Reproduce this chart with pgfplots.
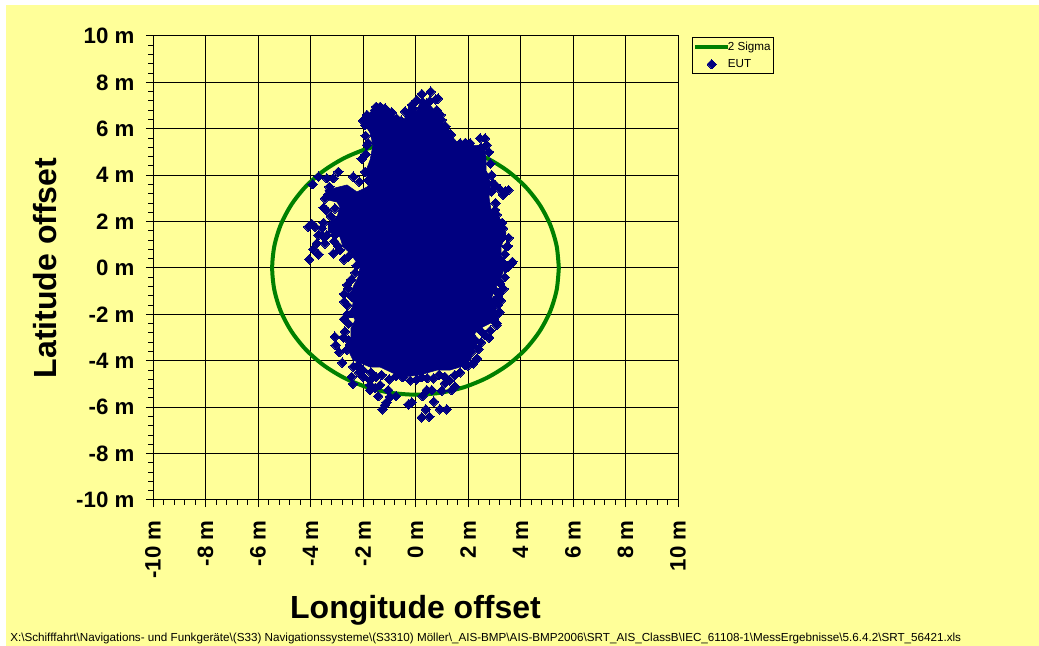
\documentclass[border=0pt]{standalone}
\usepackage{fontspec}
\setmainfont{Liberation Sans}
\usepackage{pgfplots}
\pgfplotsset{compat=1.18}
\definecolor{chartbg}{HTML}{FFFF99}
\definecolor{eut}{HTML}{000080}
\definecolor{sigma}{HTML}{008000}
\pgfplotsset{
  lineleg/.style={legend image code/.code={\draw[##1] (0pt,0pt) -- (24.75pt,0pt);}},
  markleg/.style={legend image code/.code={\draw[##1,mark repeat=2,mark phase=2] plot coordinates {(0pt,0pt)(12.4pt,0pt)(24.75pt,0pt)};}},
}
\begin{document}
\begin{tikzpicture}
\useasboundingbox (0pt,0pt) rectangle (779.25pt,484.5pt);
\fill[chartbg] (4.5pt,0pt) rectangle (779.25pt,480.75pt);
\begin{axis}[
    at={(114.75pt,109.5pt)}, anchor=south west,
    scale only axis, width=393.75pt, height=348pt,
    xmin=-10, xmax=10, ymin=-10, ymax=10,
    xtick={-10,-8,...,10}, ytick={-10,-8,...,10},
    xticklabels={-10 m,-8 m,-6 m,-4 m,-2 m,0 m,2 m,4 m,6 m,8 m,10 m},
    yticklabels={-10 m,-8 m,-6 m,-4 m,-2 m,0 m,2 m,4 m,6 m,8 m,10 m},
    minor tick num=4,
    xtick pos=bottom, ytick pos=left,
    tick align=outside,
    major tick length=5.25pt, minor tick length=3.6pt,
    tick style={black, line width=0.75pt},
    grid=major, major grid style={black, line width=0.75pt},
    axis line style={line width=0.75pt},
    ticklabel style={font=\fontsize{16.7}{18}\selectfont\bfseries},
    xticklabel style={rotate=90, anchor=east, inner xsep=0pt, xshift=-10pt},
    yticklabel style={anchor=east, inner xsep=0pt, xshift=-8.5pt},
    xlabel={Longitude offset}, ylabel={Latitude offset},
    every axis x label/.style={at={(axis description cs:0.5,-0.237)}, anchor=center,
        font=\fontsize{24}{28}\selectfont\bfseries},
    every axis y label/.style={at={(axis description cs:-0.206,0.5)}, rotate=90, anchor=center,
        font=\fontsize{24}{28}\selectfont\bfseries},
    legend style={at={(axis description cs:1.0267,0.998)}, anchor=north west,
        fill=chartbg, draw=black, line width=0.75pt, font=\fontsize{8.75}{10}\selectfont,
        inner xsep=0.5pt, inner ysep=1.5pt, row sep=1pt,
        cells={anchor=west, inner xsep=1pt}},
]
% 2 Sigma circle
\addplot[sigma, line width=3pt, smooth, lineleg] coordinates {
  (5.46,0) (5.377,0.948) (5.131,1.867) (4.728,2.730) (4.183,3.510) (3.510,4.183)
  (2.730,4.728) (1.867,5.131) (0.948,5.377) (0,5.46) (-0.948,5.377) (-1.867,5.131)
  (-2.730,4.728) (-3.510,4.183) (-4.183,3.510) (-4.728,2.730) (-5.131,1.867) (-5.377,0.948)
  (-5.46,0) (-5.377,-0.948) (-5.131,-1.867) (-4.728,-2.730) (-4.183,-3.510) (-3.510,-4.183)
  (-2.730,-4.728) (-1.867,-5.131) (-0.948,-5.377) (0,-5.46) (0.948,-5.377) (1.867,-5.131)
  (2.730,-4.728) (3.510,-4.183) (4.183,-3.510) (4.728,-2.730) (5.131,-1.867) (5.377,-0.948)
  (5.46,0)
};
\addlegendentry{\hspace*{-3.75pt}2 Sigma\hspace{2.25pt}}
% region where the markers overlap into solid colour
\addplot[fill=eut, draw=eut, forget plot] coordinates {
  (0.25,7.37) (0.44,7.16) (0.82,6.68) (1.05,6.25) (1.24,5.86) (1.58,5.43) (2.08,5.30) (2.65,5.26)
  (2.69,4.66) (2.69,4.09) (2.88,3.66) (2.80,3.06) (2.88,2.50) (3.18,2.07) (3.45,1.51) (3.26,0.91)
  (3.26,0.47) (3.41,0.04) (3.26,-0.39) (3.07,-0.82) (2.91,-1.25) (3.07,-1.68) (3.10,-2.24) (2.57,-2.54)
  (2.27,-2.80) (2.19,-3.53) (2.11,-3.97) (1.70,-4.27) (1.31,-4.40) (0.82,-4.40) (0.17,-4.61) (-0.48,-4.70)
  (-0.86,-4.53) (-1.35,-4.27) (-1.73,-4.27) (-2.11,-4.09) (-2.38,-3.97) (-2.57,-3.53) (-2.46,-2.97) (-2.46,-2.59)
  (-2.30,-2.24) (-2.46,-1.94) (-2.38,-1.51) (-2.46,-1.16) (-2.38,-0.82) (-2.19,-0.39) (-2.11,0.04) (-2.50,0.65)
  (-2.76,0.91) (-2.88,1.34) (-3.33,1.55) (-3.33,1.94) (-2.99,2.20) (-2.88,2.63) (-2.99,2.84) (-3.33,2.93)
  (-3.45,3.36) (-3.07,3.45) (-2.61,3.58) (-2.23,3.28) (-1.85,3.49) (-1.73,3.66) (-1.92,4.09) (-1.73,4.66)
  (-1.62,5.30) (-1.73,5.82) (-1.92,6.16) (-1.73,6.51) (-1.35,6.90) (-1.09,6.72) (-0.70,6.51) (-0.48,6.29)
  (-0.32,6.68) (0.06,6.81)
} -- cycle;
% EUT points visible round the edge of the cloud
\addplot[only marks, mark=square*, mark size=2.5pt,
    mark options={rotate=45, fill=eut, draw=eut, line width=0pt}, markleg] coordinates {
  (0.58,7.60) (0.24,7.50) (0.77,7.27) (0.86,7.31) (-0.14,7.03) (-0.27,6.67) (1.00,6.38) (0.81,6.81)
  (0.43,7.10) (0.05,7.24) (-1.35,6.95) (-1.54,6.81) (-1.16,6.88) (-1.67,6.59) (-0.91,6.71) (-1.92,6.16)
  (-1.73,6.31) (-1.80,5.38) (-2.05,4.70) (-1.92,4.15) (-0.72,6.45) (1.19,5.88) (2.65,5.59) (2.71,5.30)
  (2.46,5.59) (2.08,5.38) (1.70,5.38)
  (-2.94,4.15) (-3.13,3.87) (-3.70,3.94) (-3.92,3.61) (-3.38,3.87) (-3.28,3.50) (-2.37,3.94) (-2.14,3.72)
  (-1.80,3.79) (-3.32,3.15) (-3.38,2.47) (-3.07,2.57) (-3.95,1.90) (-4.08,1.78) (-3.83,1.78) (-3.57,1.71)
  (-3.70,1.42) (-3.38,1.42) (-3.76,1.06) (-3.45,1.06) (-3.89,0.81) (-3.70,0.59) (-4.05,0.37) (-3.13,0.63)
  (-2.72,0.37) (-3.07,1.42) (-2.88,0.78) (-2.05,0.22)
  (-2.60,-0.73) (-2.72,-1.12) (-2.72,-1.45) (-2.43,-1.24) (-2.43,-1.95) (-2.72,-2.20) (-2.69,-2.74) (-3.07,-2.96)
  (-3.04,-3.32) (-2.56,-3.10) (-2.91,-3.63) (-2.62,-3.53) (-2.79,-4.08) (-2.37,-4.25) (-2.43,-4.69) (-2.39,-5.00)
  (-2.05,-3.68) (-1.73,-5.04) (-1.73,-5.26) (-1.42,-5.52) (-1.35,-5.04) (-1.04,-5.26) (-0.74,-5.52) (-0.97,-5.55)
  (-1.10,-5.79) (-1.26,-6.09) (-1.16,-5.91) (-0.27,-5.88) (-0.14,-5.79) (0.39,-6.09) (0.24,-6.44) (0.53,-6.41)
  (0.93,-6.09) (1.19,-6.09) (0.70,-5.76) (0.27,-5.52) (0.43,-5.26) (0.62,-5.26) (1.00,-5.29) (1.38,-5.26)
  (1.12,-4.97) (1.50,-5.11) (-1.29,-4.61) (-0.49,-4.71) (-0.74,-4.66) (0.24,-4.71) (0.68,-4.76) (1.12,-4.69)
  (1.50,-4.61) (-1.73,-4.83) (-1.99,-4.69) (-1.54,-5.17)
  (2.20,-4.11) (1.89,-4.18) (2.27,-3.10) (2.52,-2.75) (2.81,-3.00) (2.14,-3.61) (3.09,-2.46) (3.15,-1.59)
  (2.96,-1.45) (3.14,-1.25) (3.03,-0.95) (3.22,-0.66) (3.03,-2.10) (3.09,-2.38) (2.20,-3.32)
  (3.54,3.36) (3.34,3.15) (3.22,3.39) (2.96,3.65) (3.03,2.50) (3.15,2.00) (3.34,1.71) (3.47,0.92)
  (3.34,1.35) (3.28,0.27) (3.66,0.20) (3.69,0.27) (3.54,0.06) (3.34,0.23) (3.50,0.95) (3.41,3.29)
  (3.03,3.58) (2.71,3.94) (3.22,1.21)
  % along the lower left and the bottom
  (-2.50,-3.30) (-2.75,-3.00) (-2.55,-2.40) (-2.60,-2.00) (-2.60,-1.60) (-2.55,-0.90) (-2.45,-0.50) (-2.30,-0.20)
  (-2.20,-4.20) (-2.15,-4.50) (-2.00,-4.40) (-1.70,-4.50) (-1.50,-4.70) (-1.00,-4.80) (-0.20,-4.85) (0.05,-4.80)
  (0.45,-4.75) (0.90,-4.60) (1.30,-4.85) (1.70,-4.50)
  % along the right side
  (2.00,-4.20) (2.35,-3.90) (2.40,-3.50) (2.50,-3.20) (2.65,-2.90) (2.85,-2.70) (3.00,-2.20) (3.20,-1.90)
  (3.25,-1.40) (3.20,-1.10) (3.35,-0.90) (3.40,-0.40) (3.45,0.00)
  (2.90,3.30) (3.05,2.80) (3.10,2.30) (3.30,1.95) (3.55,1.30) (3.40,0.60) (2.90,4.00) (2.85,4.50) (2.80,5.00) (2.50,5.20)
  % along the upper left and the top
  (-3.45,3.00) (-3.50,2.60) (-3.20,2.20) (-3.50,1.95) (-3.55,1.40) (-3.10,1.15) (-2.95,0.95) (-2.55,0.50) (-2.25,0.10)
  (-1.90,4.90) (-1.85,5.30) (-1.90,5.70) (-2.00,6.35) (-1.85,6.60) (-1.50,6.95) (-1.20,6.85) (-0.55,6.35) (-0.40,6.75)
  (-0.10,6.90) (0.55,7.20) (0.95,6.60) (1.15,6.10) (1.35,5.75) (1.90,5.40)
};
\addlegendentry{\hspace*{-3.75pt}EUT}
\end{axis}
\node[anchor=base west, inner sep=0pt, font=\fontsize{8.75}{10}\selectfont] at (7.5pt,3pt)
  {X:\textbackslash Schifffahrt\textbackslash Navigations- und Funkgeräte\textbackslash (S33) Navigationssysteme\textbackslash (S3310) Möller\textbackslash \_AIS-BMP\textbackslash AIS-BMP2006\textbackslash SRT\_AIS\_ClassB\textbackslash IEC\_61108-1\textbackslash MessErgebnisse\textbackslash 5.6.4.2\textbackslash SRT\_56421.xls};
\end{tikzpicture}
\end{document}
